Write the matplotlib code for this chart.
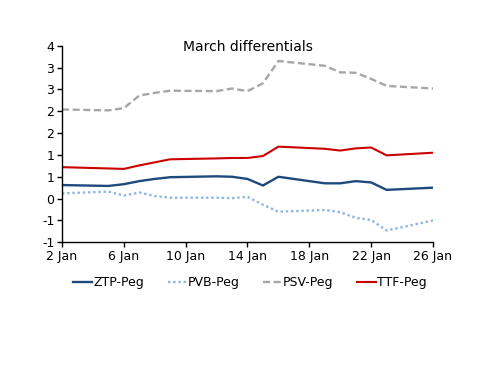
import numpy as np
import pandas as pd
import matplotlib
matplotlib.use("Agg")
import matplotlib.pyplot as plt
import matplotlib.dates as mdates
from matplotlib.ticker import FixedLocator, FuncFormatter

# business days, Jan 2015
days = [2, 5, 6, 7, 8, 9, 12, 13, 14, 15, 16, 19, 20, 21, 22, 23, 26]
dates = pd.to_datetime([f"2015-01-{d:02d}" for d in days])

ztp = [0.31, 0.29, 0.33, 0.40, 0.45, 0.49, 0.51, 0.50, 0.45, 0.30, 0.50, 0.35, 0.35, 0.40, 0.37, 0.20, 0.25]
pvb = [0.12, 0.16, 0.07, 0.14, 0.06, 0.02, 0.02, 0.01, 0.04, -0.14, -0.30, -0.26, -0.31, -0.44, -0.49, -0.73, -0.50]
psv = [2.04, 2.02, 2.07, 2.36, 2.42, 2.47, 2.46, 2.52, 2.46, 2.64, 3.15, 3.04, 2.89, 2.88, 2.74, 2.58, 2.52]
ttf = [0.72, 0.69, 0.68, 0.76, 0.83, 0.90, 0.92, 0.93, 0.93, 0.975, 1.19, 1.14, 1.10, 1.15, 1.17, 0.99, 1.05]

y_ticks = np.arange(-1, 3.51, 0.5)
x_tick_days = [2, 6, 10, 14, 18, 22, 26]

fig = plt.figure(figsize=(5.0, 3.86), dpi=100)
ax = fig.add_axes([0.124, 0.3723, 0.742, 0.5093])

ax.plot(dates, ztp, color="#1F497D", lw=1.7, label="ZTP-Peg")
ax.plot(dates, pvb, color="#8DB4E2", lw=1.7, ls=(0, (1, 1.2)), label="PVB-Peg")
ax.plot(dates, psv, color="#A6A6A6", lw=1.7, ls=(0, (3, 1.5)), label="PSV-Peg")
ax.plot(dates, ttf, color="#CC0000", lw=1.5, label="TTF-Peg")

ax.set_ylim(-1, 3.5)
ax.yaxis.set_major_locator(FixedLocator(y_ticks))
# labels rounded half away from zero, as in the source
ax.yaxis.set_major_formatter(FuncFormatter(
    lambda v, p: str(int(np.sign(v) * np.floor(abs(v) + 0.5)))))

xt = [mdates.date2num(pd.Timestamp(f"2015-01-{d:02d}")) for d in x_tick_days]
ax.set_xlim(xt[0], xt[-1])
ax.xaxis.set_major_locator(FixedLocator(xt))
ax.xaxis.set_major_formatter(FuncFormatter(
    lambda v, p: f"{mdates.num2date(v).day} Jan"))

for s in ["top", "right"]:
    ax.spines[s].set_visible(False)
for s in ["left", "bottom"]:
    ax.spines[s].set_linewidth(1.0)
ax.tick_params(axis="both", direction="out", length=3.5, width=1.0,
               labelsize=9, pad=2)

fig.text(0.496, 0.878, "March differentials", ha="center", va="center", fontsize=10)

fig.legend(loc="center", bbox_to_anchor=(0.5, 0.268), ncol=4, frameon=False,
           fontsize=9, handlelength=1.5, handletextpad=0.1, columnspacing=1.9)

fig.savefig("out.png", dpi=100)
